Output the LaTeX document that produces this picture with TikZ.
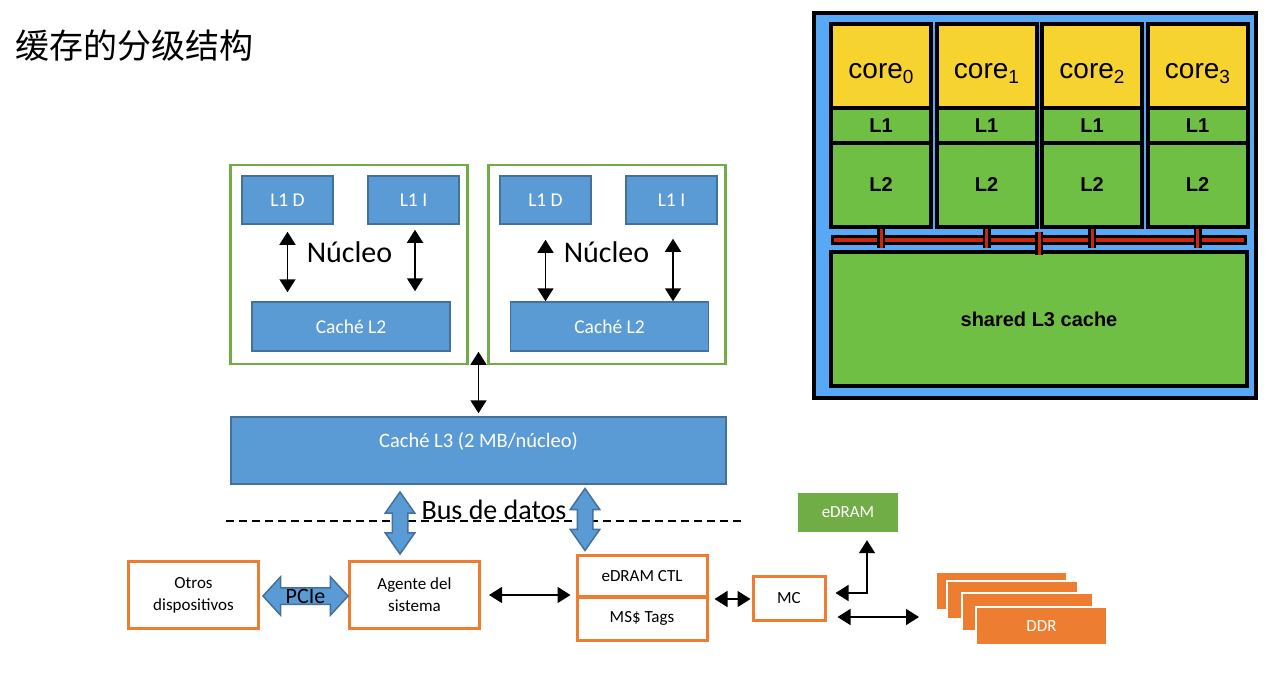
\documentclass[tikz,border=0pt]{standalone}
\usepackage{fontspec}
\setmainfont{Carlito}
\newfontfamily\chipfont{Liberation Sans}
\newfontfamily\cjkfont{Noto Sans CJK SC}
\usetikzlibrary{arrows.meta,shapes.arrows,positioning}
\definecolor{cachefill}{HTML}{5B9BD5}
\definecolor{cacheline}{HTML}{41719C}
\definecolor{coregreen}{HTML}{70AD47}
\definecolor{unitorange}{HTML}{ED7D31}
\definecolor{chipblue}{HTML}{57A8F6}
\definecolor{chipyellow}{HTML}{F6D32E}
\definecolor{chipgreen}{HTML}{6FBF44}
\definecolor{chipred}{HTML}{C8290C}
\tikzset{node distance=126pt, auto,
  cache/.style={draw=cacheline, fill=cachefill, line width=1.5pt, text=white,
    font=\fontsize{19.5}{22}\selectfont, minimum width=91, minimum height=48},
  nucleo/.style={draw=coregreen, line width=2.5pt, minimum width=237, minimum height=199},
  unit/.style={draw=unitorange, line width=3pt, fill=white, align=center,
    font=\fontsize{17}{22}\selectfont, minimum width=130, minimum height=67},
  link/.style={{Triangle[length=13pt,width=16pt]}-{Triangle[length=13pt,width=16pt]}, line width=1.5pt},
  bus/.style={double arrow, draw=cacheline, fill=cachefill, line width=1.5pt, inner sep=0pt,
    inner ysep=7pt, double arrow head extend=7pt, double arrow tip angle=70, minimum height=62},
  plate/.style={fill=unitorange, draw=white, line width=2pt, minimum width=131, minimum height=38},
  cell/.style={draw=black, line width=4pt, minimum width=100, font=\chipfont\bfseries\fontsize{20}{22}\selectfont},
  coretile/.style={cell, fill=chipyellow, minimum height=84, text height=26pt, text depth=2pt,
    font=\chipfont\fontsize{28}{30}\selectfont},
  onetile/.style={cell, fill=chipgreen, minimum height=35},
  twotile/.style={cell, fill=chipgreen, minimum height=84},
  tap/.style={draw=black, line width=2.5pt, double=chipred, double distance=3pt}
}

\begin{document}
\begin{tikzpicture}[x=1pt, y=-1pt]
\useasboundingbox (0,0) rectangle (1277,680);
\node[anchor=west, font=\cjkfont\fontsize{34}{40}\selectfont] (title) at (12,46) {缓存的分级结构};

% two cores
\node[nucleo] (coreA) at (349,264.5) {};
\node[nucleo] (coreB) at (607,264.5) {};
\node[cache] (l1dA) at (287.5,200) {L1 D};
\node[cache] (l1iA) [right of=l1dA] {L1 I};
\node[cache] (l1dB) at (545.5,200) {L1 D};
\node[cache] (l1iB) [right of=l1dB] {L1 I};
\node[cache, minimum width=198, minimum height=49] (l2A) at (351,326.5) {Caché L2};
\node[cache, minimum width=198, minimum height=49] (l2B) at (609.5,326.5) {Caché L2};
\node[font=\fontsize{30}{36}\selectfont] (nucA) at (349.5,252) {Núcleo};
\node[font=\fontsize{30}{36}\selectfont] (nucB) at (606.5,252) {Núcleo};
\draw[link, shorten <=7pt, shorten >=9pt] (l1dA) -- (l1dA |- l2A.north);
\draw[link, shorten <=5pt, shorten >=10pt] ([xshift=1.5pt]l1iA.south) -- ([xshift=1.5pt]l1iA.south |- l2A.north);
\draw[link, shorten <=15pt] (l1dB) -- (l1dB |- l2B.north);
\draw[link, shorten <=14pt] ([xshift=1.5pt]l1iB.south) -- ([xshift=1.5pt]l1iB.south |- l2B.north);

% L3 and bus
\node[cache, minimum width=495, minimum height=67,
  label={[text=white, font=\fontsize{20.5}{24}\selectfont, yshift=9pt]center:Caché L3 (2 MB/núcleo)}] (l3) at (478.5,450.5) {};
\draw[link, shorten <=3pt] (l3.north) -- (l3.north |- l2A.south);
\draw[dash pattern=on 8pt off 5pt, line width=1.5pt] (226,521) -- (742,521);
\node[bus, rotate=90] (busA) at (400,523) {};
\node[bus, rotate=90] (busB) at (585,519.5) {};
\node[font=\fontsize{28}{32}\selectfont] (busname) at (494,510) {Bus de datos};

% system agent side
\node[unit] (otros) at (193.5,595) {Otros\\dispositivos};
\node[unit] (agente) [right of=otros, node distance=221pt] {Agente del\\sistema};
\node[bus, inner ysep=7.5pt, double arrow head extend=11pt, double arrow tip angle=95, minimum height=85] (pcie) at (305.5,596) {};
\node[font=\fontsize{22}{26}\selectfont] (pcielabel) at (pcie) {PCIe};
\node[unit, minimum height=41] (ctl) at (642,576) {eDRAM CTL};
\node[unit, minimum height=43] (tags) at (642,618.5) {MS\$ Tags};
\node[unit, minimum width=72, minimum height=44] (mc) at (789,598) {MC};
\node[fill=coregreen, text=white, font=\fontsize{17}{22}\selectfont, minimum width=100, minimum height=39] (edram) at (848,512.5) {eDRAM};
\node[plate] (ddr1) at (1001.5,591) {};
\node[plate] (ddr2) at (1012.5,600) {};
\node[plate] (ddr3) at (1027.5,612) {};
\node[plate, text=white, font=\fontsize{17}{22}\selectfont] (ddr) at (1041.5,626) {DDR};
\draw[link, shorten <=8pt, shorten >=5pt] (agente.east) -- (agente.east -| ctl.west);
\draw[link, shorten <=6pt, shorten >=1pt] ([yshift=-1pt]ctl.south east) -- ([yshift=-1pt]ctl.south east -| mc.west);
\draw[link, shorten <=9pt, shorten >=8pt] ([yshift=5pt]mc.east) -| ([xshift=19pt]edram.south);
\draw[link, shorten <=11pt, shorten >=16pt] ([yshift=-19pt]mc.east) -- ([yshift=-19pt]mc.east -| ddr1.west);

% four-core chip
\node[draw=black, fill=chipblue, line width=4pt, minimum width=442, minimum height=385] (chip) at (1035,205.5) {};
\node[coretile] (core0) at (881,66) {core\raisebox{-5pt}{\fontsize{19}{19}\selectfont 0}};
\node[coretile] (core1) [right of=core0, node distance=105.5pt] {core\raisebox{-5pt}{\fontsize{19}{19}\selectfont 1}};
\node[coretile] (core2) [right of=core1, node distance=105.5pt] {core\raisebox{-5pt}{\fontsize{19}{19}\selectfont 2}};
\node[coretile] (core3) [right of=core2, node distance=105.5pt] {core\raisebox{-5pt}{\fontsize{19}{19}\selectfont 3}};
\node[onetile] (lone0) [below of=core0, node distance=59.5pt] {L1};
\node[onetile] (lone1) [below of=core1, node distance=59.5pt] {L1};
\node[onetile] (lone2) [below of=core2, node distance=59.5pt] {L1};
\node[onetile] (lone3) [below of=core3, node distance=59.5pt] {L1};
\node[twotile] (ltwo0) [below of=lone0, node distance=59.5pt] {L2};
\node[twotile] (ltwo1) [below of=lone1, node distance=59.5pt] {L2};
\node[twotile] (ltwo2) [below of=lone2, node distance=59.5pt] {L2};
\node[twotile] (ltwo3) [below of=lone3, node distance=59.5pt] {L2};
\node[fill=chipred, draw=black, line width=3.5pt, minimum width=413, minimum height=7, inner sep=0pt] (ring) at (1039,240) {};
\node[cell, fill=chipgreen, minimum width=416, minimum height=134] (lthree) at (1039,319) {shared L3 cache};
\draw[tap] (ltwo0.south) -- ([yshift=-3pt]ltwo0.south |- ring.south);
\draw[tap] (ltwo1.south) -- ([yshift=-3pt]ltwo1.south |- ring.south);
\draw[tap] (ltwo2.south) -- ([yshift=-3pt]ltwo2.south |- ring.south);
\draw[tap] (ltwo3.south) -- ([yshift=-3pt]ltwo3.south |- ring.south);
\draw[tap] ([yshift=3pt]ring.north) -- ([yshift=-5pt]ring |- lthree.north);
\end{tikzpicture}
\end{document}
